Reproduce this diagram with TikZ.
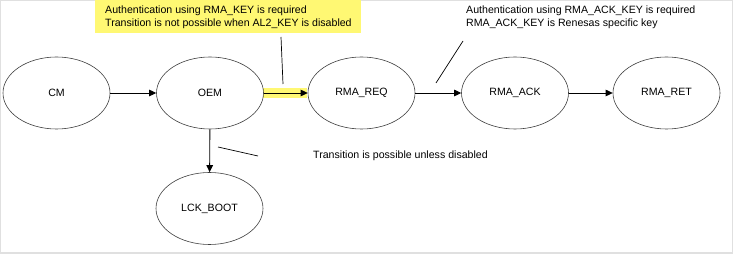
\documentclass[tikz,border=0pt]{standalone}
\usepackage{fontspec}
\setmainfont{Liberation Sans}
\usetikzlibrary{arrows.meta,shapes.geometric}
\begin{document}
\begin{tikzpicture}[x=1pt,y=1pt,
  state/.style={draw=black!75,line width=0.6pt,ellipse,minimum width=107pt,minimum height=72pt,inner sep=0pt,font=\fontsize{10.6}{12}\selectfont},
  arr/.style={draw=black,line width=0.9pt,-{Triangle[length=7pt,width=6.5pt]}},
  note/.style={align=left,anchor=west,inner sep=0pt,font=\fontsize{10.6}{13}\selectfont},
  lead/.style={draw=black,line width=0.7pt}]
\useasboundingbox (0,0) rectangle (733,254);
\draw[black!12,line width=1.2pt] (0.6,1) rectangle (732.2,253.4);
% highlight
\fill[yellow!55!white] (95,221) rectangle (361,254);
\fill[yellow!55!white] (263,156) rectangle (307,166);
% states
\node[state] (cm) at (56.5,161) {CM};
\node[state] (oem) at (210,161) {OEM};
\node[state] (req) at (361.5,161) {RMA\_REQ};
\node[state] (ack) at (515,161) {RMA\_ACK};
\node[state] (ret) at (666.5,161) {RMA\_RET};
\node[state] (lck) at (209.5,45.5) {LCK\_BOOT};
% transitions
\draw[arr] (cm) -- (oem);
\draw[arr] (oem) -- (req);
\draw[arr] (req) -- (ack);
\draw[arr] (ack) -- (ret);
\draw[arr] (oem) -- (lck);
% notes
\node[note] (n1) at (105,236.5) {Authentication using RMA\_KEY is required\\Transition is not possible when AL2\_KEY is disabled};
\node[note] (n2) at (466,236.5) {Authentication using RMA\_ACK\_KEY is required\\RMA\_ACK\_KEY is Renesas specific key};
\node[note] (n3) at (313,98) {Transition is possible unless disabled};
\coordinate (a1) at (281,217);
\coordinate (a2) at (283,170);
\coordinate (b1) at (463,213);
\coordinate (b2) at (436,171);
\coordinate (c1) at (218,107);
\coordinate (c2) at (258,98);
\draw[lead] (a1) -- (a2);
\draw[lead] (b1) -- (b2);
\draw[lead] (c1) -- (c2);
\end{tikzpicture}
\end{document}
